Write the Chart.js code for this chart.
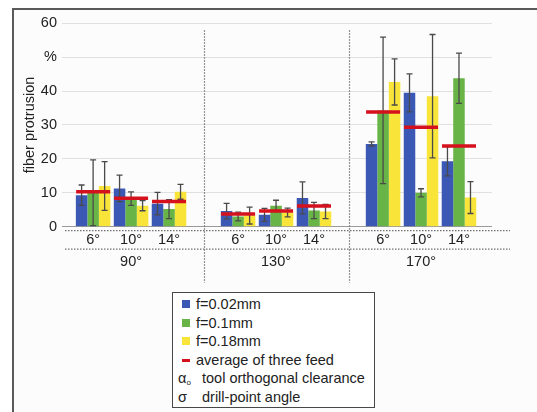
<!DOCTYPE html>
<html>
<head>
<meta charset="utf-8">
<script src="https://cdn.jsdelivr.net/npm/chart.js@4.4.1/dist/chart.umd.min.js"></script>
<style>
  html, body { margin: 0; padding: 0; background: #fff; }
  #wrap { position: relative; width: 537px; height: 412px; overflow: hidden; font-family: "Liberation Sans", Arial, sans-serif; }
  #frame { position: absolute; left: 12px; top: 8px; width: 600px; height: 500px; border: 2px solid #5a5a5a; background: #fcfcfc; }
  #chart { position: absolute; left: 0; top: 0; }
  #legend { position: absolute; left: 172px; top: 292px; width: 203px; height: 116px; box-sizing: border-box;
            border: 1.5px solid #484848; background: #fff; font-size: 14.5px; color: #222; padding-top: 2px; }
  .row { position: relative; height: 18.6px; line-height: 18.6px; white-space: nowrap; }
  .sw { position: absolute; left: 9px; top: 5px; width: 8px; height: 8px; }
  .sw.line { top: 8px; height: 3px; }
  .txt { position: absolute; left: 23px; }
  .sym { position: absolute; left: 5px; }
  .sym sub { font-size: 8px; vertical-align: -2px; }
  .row.note .txt { left: 29px; }
</style>
</head>
<body>
<div id="wrap">
  <div id="frame"></div>
  <canvas id="chart" width="537" height="412"></canvas>
  <div id="legend"></div>
</div>
<script>
const groups = ['90°', '130°', '170°'];
const angles = ['6°', '10°', '14°'];
const feeds = ['f=0.02mm', 'f=0.1mm', 'f=0.18mm'];
const avgLabel = 'average of three feed';
const notes = [['α', 'o', 'tool orthogonal clearance'], ['σ', '', 'drill-point angle']];

// fiber protrusion in %, order: 90° (6°,10°,14°), 130° (...), 170° (...)
const blueValues   = [9.3, 11.3, 6.8, 4.6, 3.5, 8.5, 24.4, 39.5, 19.3];
const blueErrors   = [3.0, 3.9, 3.3, 2.3, 1.9, 4.7, 0.6, 5.6, 4.3];
const greenValues  = [10.0, 8.3, 5.2, 3.0, 6.2, 4.8, 34.3, 10.0, 43.8];
const greenErrors  = [9.7, 2.0, 2.8, 1.3, 1.6, 2.4, 21.6, 1.2, 7.4];
const yellowValues = [12.0, 6.2, 10.3, 3.3, 4.2, 4.5, 42.7, 38.5, 8.6];
const yellowErrors = [7.2, 1.5, 2.2, 2.5, 1.3, 2.1, 6.8, 18.2, 4.7];
const averages     = [10.3, 8.4, 7.4, 3.75, 4.6, 6.1, 33.8, 29.3, 23.8];
const yTickLabels  = ['0', '10', '20', '30', '40', '%', '60'];

const colors = ['#3b58b4', '#69b446', '#f9e53a'];
const red = '#d4111d';
const FONT = { family: '"Liberation Sans", Arial, sans-serif', size: 14.5 };

// x positions: three angles per group, a gap between groups
const GROUP_STEP = 3.82;
const xPos = [];
groups.forEach(function (g, gi) {
  angles.forEach(function (a, ai) { xPos.push(gi * GROUP_STEP + ai); });
});
const groupCenters = groups.map(function (g, gi) { return gi * GROUP_STEP + 1; });
const X_MIN = -0.82;
const X_MAX = xPos[xPos.length - 1] + 0.87;

function barSet(label, values, errors, color) {
  return {
    type: 'bar',
    label: label,
    data: xPos.map(function (x, i) { return { x: x, y: values[i] }; }),
    errors: errors,
    backgroundColor: color,
    borderWidth: 0,
    order: 1
  };
}

const errorBars = {
  id: 'errorBars',
  afterDatasetDraw: function (chart, args) {
    const ds = chart.data.datasets[args.index];
    if (!ds.errors) return;
    const y = chart.scales.y;
    const ctx = chart.ctx;
    ctx.save();
    ctx.strokeStyle = '#4a4a4a';
    ctx.lineWidth = 1.3;
    args.meta.data.forEach(function (el, i) {
      const v = ds.data[i].y, e = ds.errors[i];
      const top = y.getPixelForValue(v + e);
      const bot = y.getPixelForValue(Math.max(v - e, 0));
      ctx.beginPath();
      ctx.moveTo(el.x, top); ctx.lineTo(el.x, bot);
      ctx.moveTo(el.x - 3, top); ctx.lineTo(el.x + 3, top);
      ctx.moveTo(el.x - 3, bot); ctx.lineTo(el.x + 3, bot);
      ctx.stroke();
    });
    ctx.restore();
  }
};

const separators = {
  id: 'separators',
  beforeDatasetsDraw: function (chart) {
    const a = chart.chartArea, x = chart.scales.x, ctx = chart.ctx;
    ctx.save();
    ctx.strokeStyle = '#707070';
    ctx.lineWidth = 1.2;
    ctx.setLineDash([1.5, 1.5]);
    [2, 5].forEach(function (i) {
      const px = Math.round(x.getPixelForValue((xPos[i] + xPos[i + 1]) / 2)) + 0.5;
      ctx.beginPath();
      ctx.moveTo(px, a.top + 7);
      ctx.lineTo(px, a.bottom + 56);
      ctx.stroke();
    });
    [4, 22.5].forEach(function (dy) {
      ctx.beginPath();
      ctx.moveTo(a.left + 3, a.bottom + dy);
      ctx.lineTo(a.right + 18, a.bottom + dy);
      ctx.stroke();
    });
    ctx.restore();
  }
};

new Chart(document.getElementById('chart').getContext('2d'), {
  type: 'bar',
  data: {
    datasets: [
      barSet(feeds[0], blueValues, blueErrors, colors[0]),
      barSet(feeds[1], greenValues, greenErrors, colors[1]),
      barSet(feeds[2], yellowValues, yellowErrors, colors[2]),
      {
        type: 'line',
        label: avgLabel,
        data: xPos.map(function (x, i) { return { x: x, y: averages[i] }; }),
        showLine: false,
        pointStyle: 'line',
        pointRadius: 17,
        pointBorderWidth: 3.5,
        pointBorderColor: red,
        borderColor: red,
        order: 0
      }
    ]
  },
  options: {
    responsive: false,
    animation: false,
    events: [],
    layout: { padding: { left: 16, top: 23.3, right: 45, bottom: 141.3 } },
    plugins: { legend: { display: false }, tooltip: { enabled: false } },
    datasets: { bar: { categoryPercentage: 0.91, barPercentage: 1 } },
    scales: {
      x: {
        type: 'linear', min: X_MIN, max: X_MAX, offset: false,
        grid: { display: false, drawTicks: false }, border: { display: false },
        afterBuildTicks: function (s) { s.ticks = xPos.map(function (v) { return { value: v }; }); },
        afterFit: function (s) { s.height = 22; },
        ticks: { autoSkip: false, maxRotation: 0, padding: 5, color: '#222', font: FONT,
                 callback: function (v, i) { return angles[i % 3]; } }
      },
      x2: {
        type: 'linear', position: 'bottom', min: X_MIN, max: X_MAX, offset: false,
        grid: { display: false, drawTicks: false }, border: { display: false },
        afterBuildTicks: function (s) { s.ticks = groupCenters.map(function (v) { return { value: v }; }); },
        afterFit: function (s) { s.height = 22; },
        ticks: { autoSkip: false, maxRotation: 0, padding: 5, color: '#222', font: FONT,
                 callback: function (v, i) { return groups[i]; } }
      },
      y: {
        min: 0, max: 60,
        afterFit: function (s) { s.width = 46; },
        ticks: { stepSize: 10, padding: 5, color: '#222', font: FONT,
                 callback: function (v, i) { return yTickLabels[i]; } },
        grid: { drawTicks: false, lineWidth: 1,
                color: function (c) { return c.tick && c.tick.value === 0 ? '#9a9a9a' : '#e0e0e0'; } },
        border: { display: false },
        title: { display: true, text: 'fiber protrusion', color: '#222', font: FONT, padding: { top: 5, bottom: 0 } }
      }
    }
  },
  plugins: [errorBars, separators]
});

// legend box
const legend = document.getElementById('legend');
feeds.forEach(function (f, i) {
  legend.insertAdjacentHTML('beforeend',
    '<div class="row"><span class="sw" style="background:' + colors[i] + '"></span><span class="txt">' + f + '</span></div>');
});
legend.insertAdjacentHTML('beforeend',
  '<div class="row"><span class="sw line" style="background:' + red + '"></span><span class="txt">' + avgLabel + '</span></div>');
notes.forEach(function (n) {
  legend.insertAdjacentHTML('beforeend',
    '<div class="row note"><span class="sym">' + n[0] + (n[1] ? '<sub>' + n[1] + '</sub>' : '') + '</span><span class="txt">' + n[2] + '</span></div>');
});
</script>
</body>
</html>
